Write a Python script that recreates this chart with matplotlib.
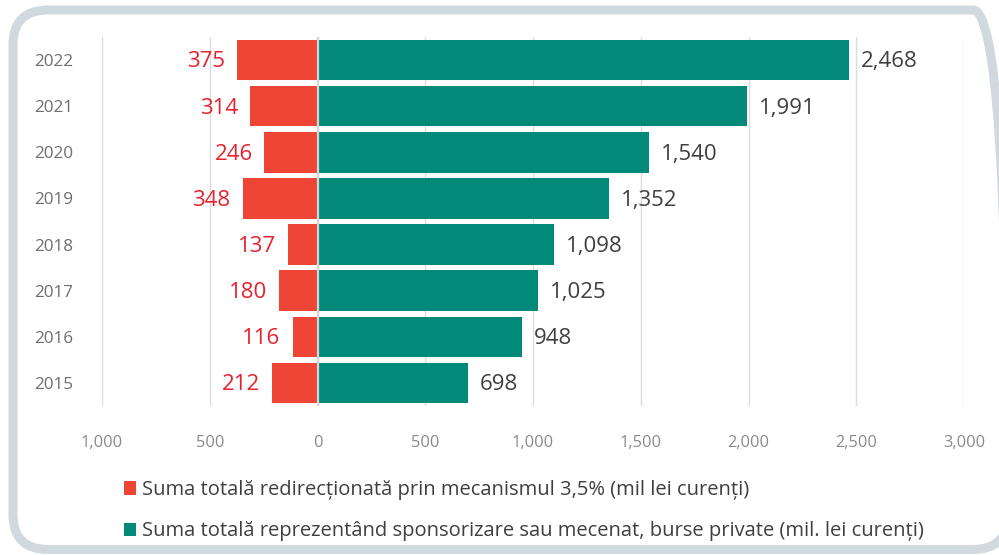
import matplotlib.pyplot as plt
import numpy as np
from matplotlib.patches import FancyBboxPatch, Patch

plt.rcParams['font.family'] = ['Open Sans', 'DejaVu Sans']

# Data (mil lei curenti)
years = ['2015', '2016', '2017', '2018', '2019', '2020', '2021', '2022']
redirected = [212, 116, 180, 137, 348, 246, 314, 375]
sponsorship = [698, 948, 1025, 1098, 1352, 1540, 1991, 2468]
tick_values = [-1000, -500, 0, 500, 1000, 1500, 2000, 2500, 3000]
tick_labels = ['1,000', '500', '0', '500', '1,000', '1,500', '2,000', '2,500', '3,000']
legend_labels = [
    'Suma totală redirecționată prin mecanismul 3,5% (mil lei curenți)',
    'Suma totală reprezentând sponsorizare sau mecenat, burse private (mil. lei curenți)',
]

red = '#EE4536'
teal = '#03897A'
red_text = '#E8212E'
dark_text = '#3F3F3F'
grid_col = '#DCDCDC'

fig = plt.figure(figsize=(9.99, 5.55), dpi=100)

# rounded frame around the whole chart (runs off the right edge)
frame = FancyBboxPatch((0.013, 0.010), 0.996, 0.972,
                       boxstyle='round,pad=0,rounding_size=0.035',
                       transform=fig.transFigure, facecolor='none',
                       edgecolor='#D0D9DE', linewidth=6.5,
                       mutation_aspect=999 / 555, zorder=-1)
fig.patches.append(frame)

ax = fig.add_axes([0.1021, 0.2685, 0.8629, 0.6648])
ax.set_facecolor('none')

y = np.arange(len(years))
ax.barh(y, [-v for v in redirected], height=0.88, color=red, zorder=2)
ax.barh(y, sponsorship, height=0.88, color=teal, zorder=2)
ax.axvline(0, color='#D5D5D5', linewidth=1.6, zorder=3)

for yi, r, s in zip(y, redirected, sponsorship):
    ax.text(-r - 55, yi - 0.04, f'{r:,}', ha='right', va='center',
            fontsize=16, color=red_text)
    ax.text(s + 55, yi - 0.04, f'{s:,}', ha='left', va='center',
            fontsize=16, color=dark_text)

ax.set_xlim(-1000, 3000)
ax.set_ylim(-0.5, 7.5)
ax.set_xticks(tick_values)
ax.set_xticklabels(tick_labels)
ax.set_yticks(y)
ax.set_yticklabels(years)
ax.tick_params(axis='x', length=0, pad=21, labelsize=11.8, labelcolor='#8A8A8A')
ax.tick_params(axis='y', length=0, pad=21, labelsize=12.3, labelcolor='#6E6E6E')
ax.grid(axis='x', color=grid_col, linewidth=1, zorder=0)
for sp in ax.spines.values():
    sp.set_visible(False)

handles = [Patch(facecolor=red), Patch(facecolor=teal)]
fig.legend(handles, legend_labels, loc='upper left',
           bbox_to_anchor=(0.124, 0.135), bbox_transform=fig.transFigure,
           frameon=False, fontsize=14.5, labelcolor=dark_text,
           handlelength=0.62, handleheight=0.62, handletextpad=0.3,
           labelspacing=1.05, borderaxespad=0, borderpad=0)

fig.savefig('out.png', dpi=100)
